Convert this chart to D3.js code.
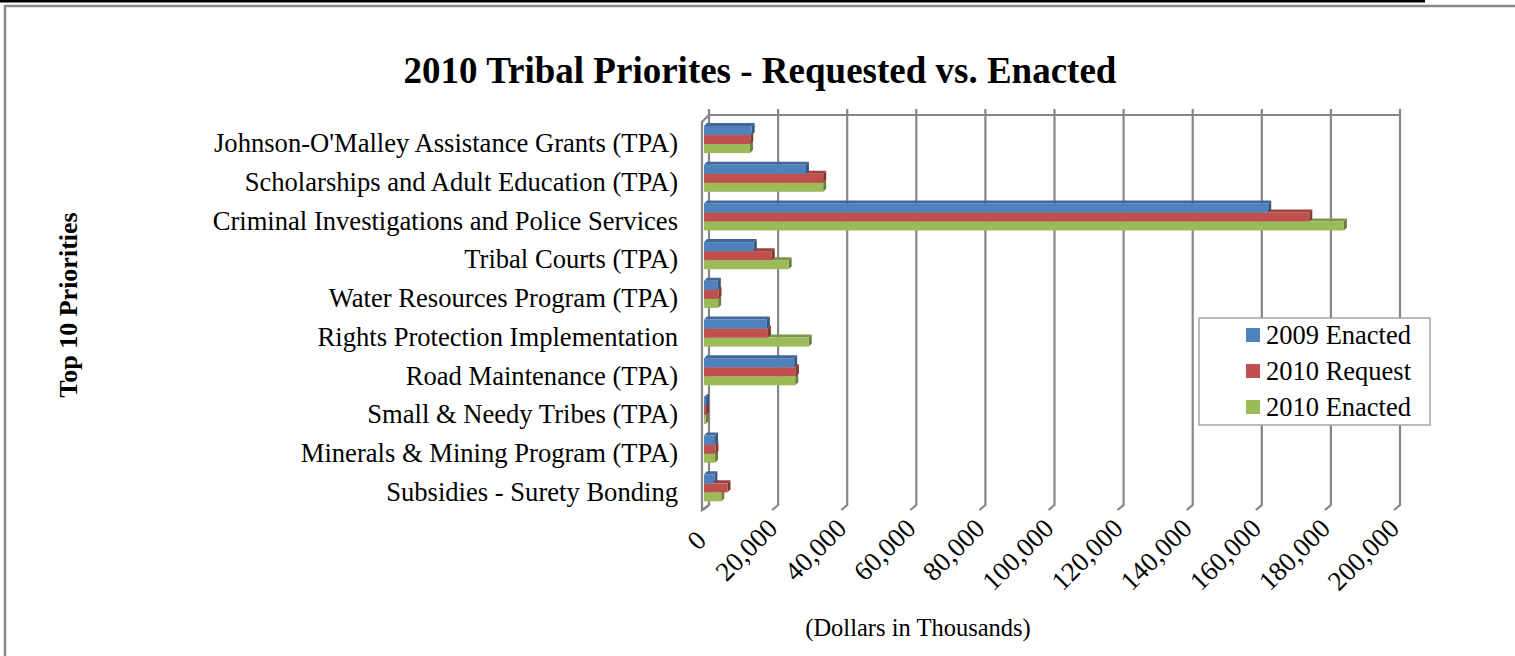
<!DOCTYPE html>
<html>
<head>
<meta charset="utf-8">
<script src="https://cdn.jsdelivr.net/npm/d3@7"></script>
<style>
body { margin: 0; background: #fff; }
text { font-family: "Liberation Serif", "Times New Roman", serif; fill: #000; }
</style>
</head>
<body>
<svg id="chart" width="1515" height="656"></svg>
<script>
// values in thousands of dollars
var categories = [
	"Johnson-O'Malley Assistance Grants (TPA)",
	"Scholarships and Adult Education (TPA)",
	"Criminal Investigations and Police Services",
	"Tribal Courts (TPA)",
	"Water Resources Program (TPA)",
	"Rights Protection Implementation",
	"Road Maintenance (TPA)",
	"Small & Needy Tribes (TPA)",
	"Minerals & Mining Program (TPA)",
	"Subsidies - Surety Bonding"
];
var seriesNames = ["2009 Enacted", "2010 Request", "2010 Enacted"];
var enacted2009 = [13800, 29500, 163300, 14400, 4000, 18200, 26100, 600, 3200, 3000];
var request2010 = [13400, 34500, 175200, 19600, 4200, 18500, 26600, 600, 3300, 6800];
var enacted2010 = [13300, 34500, 185200, 24500, 4100, 30300, 26400, 500, 3200, 5000];
var tickValues = [0, 20000, 40000, 60000, 80000, 100000, 120000, 140000, 160000, 180000, 200000];
var colors = ["#4f81bd", "#c0504d", "#9bbb59"];

var DEPTH = 7;     // wall depth offset, px
var BAR_D = 3;     // bar top/side offset, px
var GRID = "#868686";

var svg = d3.select("#chart");

// page frame lines
svg.append("rect").attr("x", 0).attr("y", 0).attr("width", 1425).attr("height", 2.5).attr("fill", "#000");
svg.append("path")
	.attr("d", "M5,656V6H1515")
	.attr("fill", "none").attr("stroke", "#8a8a8a").attr("stroke-width", 2.5);

var values = [enacted2009, request2010, enacted2010];
var data = categories.map(function(c, i) {
	return { cat: c, vals: values.map(function(s) { return s[i]; }) };
});

// back wall scale and bar scale
var xBack = d3.scaleLinear().domain([0, 200000]).range([709, 1400]);
var xBar = d3.scaleLinear().domain([0, 200000]).range([704, 1395]);

var y = d3.scaleBand()
	.domain(categories)
	.range([120.2, 507.2])
	.paddingInner(0.3)
	.paddingOuter(0.15);

var ySer = d3.scaleBand().domain(seriesNames).range([0, y.bandwidth()]);

var wallTop = 115, wallBottom = 505;

// grid / walls
var grid = svg.append("g").attr("stroke", GRID).attr("stroke-width", 2.2).attr("fill", "none");

grid.append("line")
	.attr("x1", xBack(0)).attr("x2", xBack(200000))
	.attr("y1", wallTop).attr("y2", wallTop);

grid.selectAll("path.gl")
	.data(tickValues)
	.enter().append("path")
		.attr("class", "gl")
		.attr("d", function(d) {
			var x = xBack(d);
			return "M" + x + "," + (wallTop - 6) + "V" + wallBottom + "L" + (x - DEPTH + 1) + "," + (wallBottom + 5);
		});

// left side wall
grid.append("path")
	.attr("d", "M" + xBack(0) + "," + wallTop + "L" + (xBack(0) - DEPTH) + "," + (wallTop + DEPTH) +
		"V" + (wallBottom + 5) + "L" + xBack(0) + "," + wallBottom);

// bars (drawn bottom series first so upper bars cover lower tops)
var groups = svg.selectAll("g.cat")
	.data(data)
	.enter().append("g")
		.attr("class", "cat")
		.attr("transform", function(d) { return "translate(0," + y(d.cat) + ")"; });

[2, 1, 0].forEach(function(si) {
	var c = d3.color(colors[si]);
	var top = c.darker(0.6).toString();
	var side = c.darker(1.1).toString();

	groups.each(function(d) {
		var g = d3.select(this);
		var x0 = xBar(0), x1 = xBar(d.vals[si]);
		var yy = ySer(seriesNames[si]), h = ySer.bandwidth();

		g.append("polygon")
			.attr("points", [[x0, yy], [x1, yy], [x1 + BAR_D, yy - BAR_D], [x0 + BAR_D, yy - BAR_D]].join(" "))
			.attr("fill", top);
		g.append("polygon")
			.attr("points", [[x1, yy], [x1 + BAR_D, yy - BAR_D], [x1 + BAR_D, yy + h - BAR_D], [x1, yy + h]].join(" "))
			.attr("fill", side);
		g.append("rect")
			.attr("x", x0).attr("y", yy)
			.attr("width", x1 - x0).attr("height", h)
			.attr("fill", colors[si]);
	});
});

// category labels
svg.append("g").selectAll("text")
	.data(categories)
	.enter().append("text")
		.attr("x", 678)
		.attr("y", function(d) { return y(d) + y.bandwidth() / 2 + 3.5; })
		.attr("dy", "0.35em")
		.attr("text-anchor", "end")
		.attr("font-size", 26.6)
		.text(function(d) { return d; });

// x tick labels via axis
var xFront = d3.scaleLinear().domain([0, 200000]).range([xBack(0) - DEPTH, xBack(200000) - DEPTH]);
var axis = svg.append("g")
	.attr("transform", "translate(0,524)")
	.call(d3.axisBottom(xFront).tickValues(tickValues).tickFormat(d3.format(",")).tickSize(0));
axis.select(".domain").remove();
axis.selectAll("text")
	.attr("font-family", "Liberation Serif, Times New Roman, serif")
	.attr("font-size", 27)
	.attr("fill", "#000")
	.attr("x", 1).attr("y", 0).attr("dy", "0.35em")
	.attr("text-anchor", "end")
	.attr("transform", function(d) { return d === 0 ? "translate(-2,12) rotate(-45)" : "rotate(-45)"; });

// titles
svg.append("text")
	.attr("x", 760).attr("y", 83)
	.attr("text-anchor", "middle")
	.attr("font-size", 37)
	.attr("font-weight", "bold")
	.text("2010 Tribal Priorites - Requested vs. Enacted");

svg.append("text")
	.attr("x", 918).attr("y", 636)
	.attr("text-anchor", "middle")
	.attr("font-size", 24.5)
	.text("(Dollars in Thousands)");

svg.append("text")
	.attr("transform", "translate(77,305) rotate(-90)")
	.attr("text-anchor", "middle")
	.attr("font-size", 26)
	.attr("font-weight", "bold")
	.text("Top 10 Priorities");

// legend
var legend = svg.append("g");
legend.append("rect")
	.attr("x", 1199).attr("y", 318).attr("width", 231).attr("height", 107)
	.attr("fill", "#fff").attr("stroke", "#a6a6a6").attr("stroke-width", 1.5);

var items = legend.selectAll("g.item")
	.data(seriesNames)
	.enter().append("g")
		.attr("class", "item")
		.attr("transform", function(d, i) { return "translate(1246," + (335 + i * 36) + ")"; });
items.append("rect")
	.attr("x", 0).attr("y", -7).attr("width", 14).attr("height", 14)
	.attr("fill", function(d, i) { return colors[i]; });
items.append("text")
	.attr("x", 20).attr("y", 0).attr("dy", "0.35em")
	.attr("font-size", 26.5)
	.text(function(d) { return d; });
</script>
</body>
</html>
